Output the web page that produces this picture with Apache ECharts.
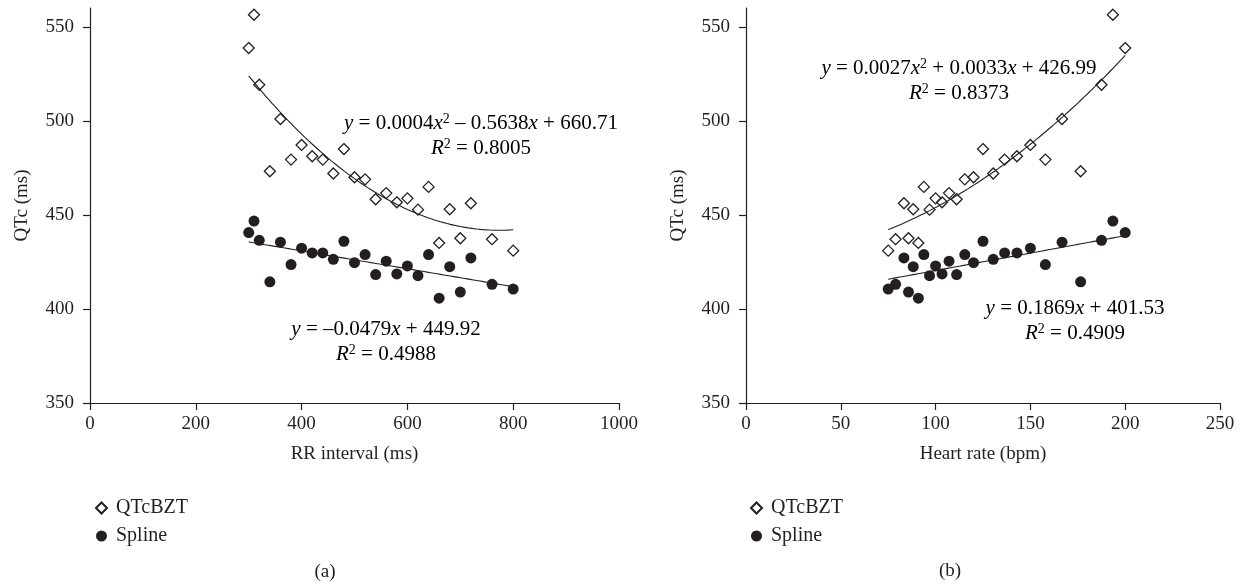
<!DOCTYPE html>
<html>
<head>
<meta charset="utf-8">
<script src="https://cdn.jsdelivr.net/npm/echarts@6/dist/echarts.min.js"></script>
<style>
html,body{margin:0;padding:0;background:#fff;}
#chart{width:1242px;height:586px;}
</style>
</head>
<body>
<div id="chart"></div>
<script>
// ---- data ----
const rrInterval = [300,310,320,340,360,380,400,420,440,460,480,500,520,540,560,580,600,620,640,660,680,700,720,760,800];
const heartRate  = [200,193.5,187.5,176.5,166.7,157.9,150,142.9,136.4,130.4,125,120,115.4,111.1,107.1,103.4,100,96.8,93.8,90.9,88.2,85.7,83.3,78.9,75];
const qtcBZT     = [538.7,556.4,519.2,473.2,501,479.4,487.2,481.2,479.4,472,485,470,468.9,458.3,461.6,456.7,458.8,452.8,464.9,435.1,453,437.6,456.2,437.1,431];
const qtcSpline  = [440.6,446.7,436.5,414.4,435.5,423.6,432.3,429.8,429.8,426.4,436,424.6,428.9,418.3,425.4,418.6,422.9,417.7,428.9,405.7,422.5,409,427.1,413.1,410.6];
const rrTicks = [0,200,400,600,800,1000];
const hrTicks = [0,50,100,150,200,250];
const qtcTicks = [350,400,450,500,550];
const seriesNames = ['QTcBZT','Spline'];
const eqLeftQuad  = ['y = 0.0004x2 – 0.5638x + 660.71','R2 = 0.8005'];
const eqLeftLin   = ['y = –0.0479x + 449.92','R2 = 0.4988'];
const eqRightQuad = ['y = 0.0027x2 + 0.0033x + 426.99','R2 = 0.8373'];
const eqRightLin  = ['y = 0.1869x + 401.53','R2 = 0.4909'];

// ---- least squares trend lines computed from the data ----
function polyfit(xs, ys, deg){
  const n = deg + 1;
  const A = [];
  for (let r = 0; r < n; r++){
    A.push([]);
    for (let c = 0; c < n; c++){
      let s = 0; xs.forEach(x => s += Math.pow(x, r + c)); A[r].push(s);
    }
    let t = 0; xs.forEach((x, i) => t += ys[i] * Math.pow(x, r)); A[r].push(t);
  }
  for (let i = 0; i < n; i++){
    let p = i; for (let k = i + 1; k < n; k++) if (Math.abs(A[k][i]) > Math.abs(A[p][i])) p = k;
    [A[i], A[p]] = [A[p], A[i]];
    for (let k = 0; k < n; k++){
      if (k === i) continue;
      const f = A[k][i] / A[i][i];
      for (let c = i; c <= n; c++) A[k][c] -= f * A[i][c];
    }
  }
  return A.map((row, i) => row[n] / row[i]);
}
function trend(xs, ys, deg){
  const co = polyfit(xs, ys, deg);
  const lo = Math.min(...xs), hi = Math.max(...xs);
  const pts = [];
  for (let i = 0; i <= 80; i++){
    const x = lo + (hi - lo) * i / 80;
    let y = 0; co.forEach((c, k) => y += c * Math.pow(x, k));
    pts.push([x, y]);
  }
  return pts;
}
const zip = (a, b) => a.map((v, i) => [v, b[i]]);

// ---- styles ----
const FONT = 'Liberation Serif';
const INK = '#231f20';
const axisCommon = {
  axisLine: {show: true, onZero: false, lineStyle: {color: INK, width: 1.2}},
  axisTick: {show: true, length: 7, lineStyle: {color: INK, width: 1.2}},
  splitLine: {show: false},
  nameTextStyle: {fontFamily: FONT, fontSize: 19, color: INK},
};
function xAxis(grid, max, interval, name, ticks){
  return Object.assign({}, axisCommon, {
    type: 'value', gridIndex: grid, min: 0, max: max, interval: interval,
    name: name, nameLocation: 'middle', nameGap: 42,
    axisTick: Object.assign({}, axisCommon.axisTick, {customValues: ticks}),
    axisLabel: {fontFamily: FONT, fontSize: 19, color: INK, margin: 12, customValues: ticks,
                formatter: v => String(v)}
  });
}
function yAxis(grid){
  return Object.assign({}, axisCommon, {
    type: 'value', gridIndex: grid, min: 350, max: 560, interval: 50,
    name: 'QTc (ms)', nameLocation: 'middle', nameGap: 58, nameRotate: 90,
    axisTick: Object.assign({}, axisCommon.axisTick, {customValues: qtcTicks}),
    axisLabel: {fontFamily: FONT, fontSize: 19, color: INK, margin: 16, customValues: qtcTicks,
                formatter: v => String(v)}
  });
}
const diamondStyle = {color: 'rgba(255,255,255,0)', borderColor: INK, borderWidth: 1.3, opacity: 1};
const dotStyle = {color: INK, opacity: 1};
function scatterPair(idx, xs){
  return [
    {name: seriesNames[0], type: 'scatter', xAxisIndex: idx, yAxisIndex: idx, symbol: 'diamond', symbolSize: 11,
     itemStyle: diamondStyle, data: zip(xs, qtcBZT), z: 3},
    {name: seriesNames[1], type: 'scatter', xAxisIndex: idx, yAxisIndex: idx, symbol: 'circle', symbolSize: 11,
     itemStyle: dotStyle, data: zip(xs, qtcSpline), z: 3}
  ];
}
function fitSeries(idx, xs, ys, deg){
  return {name: 'fit' + idx + deg, type: 'line', xAxisIndex: idx, yAxisIndex: idx, showSymbol: false, silent: true,
          smooth: false, lineStyle: {color: INK, width: 1.1}, data: trend(xs, ys, deg), z: 4};
}
const rich = {
  n: {fontFamily: FONT, fontSize: 21, color: INK, lineHeight: 22},
  i: {fontFamily: FONT, fontSize: 21, color: INK, fontStyle: 'italic', lineHeight: 22},
  s: {fontFamily: FONT, fontSize: 14, color: INK, lineHeight: 12, verticalAlign: 'top'}
};
function richify(str){
  // italic x, y, R; superscript 2 after x or R
  let out = '';
  for (let k = 0; k < str.length; k++){
    const ch = str[k];
    const prev = str[k - 1];
    if (ch === '2' && (prev === 'x' || prev === 'R') ) out += '{s|2}';
    else if (ch === 'x' || ch === 'y' || ch === 'R') out += '{i|' + ch + '}';
    else out += '{n|' + ch + '}';
  }
  return out;
}
function eqText(lines, cx, cy){
  return lines.map((t, k) => ({
    type: 'text', x: cx, y: cy + k * 25.5,
    style: {text: richify(t), rich: rich, align: 'center', verticalAlign: 'middle', fontFamily: FONT}
  }));
}
function caption(t, cx, cy){
  return {type: 'text', x: cx, y: cy, style: {text: t, fontFamily: FONT, fontSize: 19, fill: INK, align: 'center', verticalAlign: 'middle'}};
}
function legend(left){
  return {
    orient: 'vertical', left: left, top: 492, itemWidth: 11, itemHeight: 11, itemGap: 6,
    data: seriesNames, selectedMode: false,
    textStyle: {fontFamily: FONT, fontSize: 20, color: INK, lineHeight: 22, padding: [0, 0, 0, 4]}
  };
}

const option = {
  animation: false,
  backgroundColor: '#fff',
  grid: [
    {left: 90, right: 623, top: 8, bottom: 183},
    {left: 746, right: 22, top: 8, bottom: 183}
  ],
  xAxis: [xAxis(0, 1000, 200, 'RR interval (ms)', rrTicks), xAxis(1, 250, 50, 'Heart rate (bpm)', hrTicks)],
  yAxis: [yAxis(0), yAxis(1)],
  legend: [legend(90), legend(745)],
  series: [].concat(
    scatterPair(0, rrInterval),
    [fitSeries(0, rrInterval, qtcBZT, 2), fitSeries(0, rrInterval, qtcSpline, 1)],
    scatterPair(1, heartRate),
    [fitSeries(1, heartRate, qtcBZT, 2), fitSeries(1, heartRate, qtcSpline, 1)]
  ),
  graphic: [].concat(
    eqText(eqLeftQuad, 481, 123),
    eqText(eqLeftLin, 386, 329),
    eqText(eqRightQuad, 959, 68),
    eqText(eqRightLin, 1075, 308),
    [caption('(a)', 325, 572), caption('(b)', 950, 571)]
  )
};
const chart = echarts.init(document.getElementById('chart'), null, {renderer: 'canvas'});
chart.setOption(option);
</script>
</body>
</html>
